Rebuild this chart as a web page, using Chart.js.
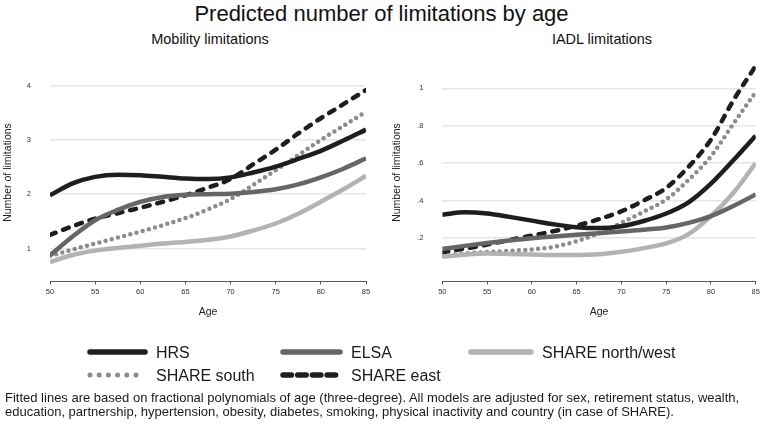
<!DOCTYPE html>
<html>
<head>
<meta charset="utf-8">
<script src="https://cdn.jsdelivr.net/npm/chart.js@4.4.1/dist/chart.umd.min.js"></script>
<style>
  body { margin: 0; background: #fff; }
  #page { position: relative; width: 763px; height: 427px; overflow: hidden; background: #fff;
          font-family: "Liberation Sans", Arial, Helvetica, sans-serif; color: #111; }
  #title { position: absolute; left: 0; top: 3px; width: 763px; text-align: center; font-size: 22px; line-height: 1; }
  .sub { position: absolute; top: 32px; font-size: 14.5px; line-height: 1; text-align: center; white-space: nowrap; }
  canvas { position: absolute; }
  .lt { position: absolute; font-size: 16px; line-height: 1; white-space: nowrap; color: #1a1a1a; }
  #legendLines { position: absolute; left: 0; top: 0; }
  #note { position: absolute; left: 5px; top: 391px; font-size: 13px; line-height: 13.5px; white-space: nowrap; color: #1a1a1a; }
</style>
</head>
<body>
<div id="page">
  <div id="title">Predicted number of limitations by age</div>
  <div class="sub" style="left:110px;width:200px">Mobility limitations</div>
  <div class="sub" style="left:502px;width:200px">IADL limitations</div>

  <canvas id="mobChart" width="380" height="270" style="left:0;top:55px"></canvas>
  <canvas id="iadlChart" width="383" height="270" style="left:380px;top:55px"></canvas>

  <svg id="legendLines" width="763" height="427"></svg>
  <div id="legendText"></div>

  <div id="note">Fitted lines are based on fractional polynomials of age (three-degree). All models are adjusted for sex, retirement status, wealth,<br>education, partnership, hypertension, obesity, diabetes, smoking, physical inactivity and country (in case of SHARE).</div>
</div>

<script>
// ages every 2.5 years, 50..85
const ages = [50, 52.5, 55, 57.5, 60, 62.5, 65, 67.5, 70, 72.5, 75, 77.5, 80, 82.5, 85];
const ageTicks = [50, 55, 60, 65, 70, 75, 80, 85];

// mobility limitations
const mobHRS   = [1.98, 2.2, 2.32, 2.36, 2.35, 2.32, 2.29, 2.28, 2.31, 2.4, 2.51, 2.65, 2.8, 2.99, 3.19];
const mobELSA  = [0.87, 1.22, 1.52, 1.71, 1.86, 1.95, 1.99, 2.0, 2.01, 2.04, 2.09, 2.18, 2.31, 2.47, 2.66];
const mobNW    = [0.75, 0.88, 0.96, 1.01, 1.05, 1.09, 1.12, 1.16, 1.22, 1.33, 1.46, 1.64, 1.86, 2.09, 2.34];
const mobSouth = [0.86, 0.98, 1.09, 1.2, 1.31, 1.43, 1.56, 1.72, 1.91, 2.17, 2.44, 2.72, 3.0, 3.26, 3.52];
const mobEast  = [1.25, 1.41, 1.55, 1.65, 1.75, 1.86, 1.98, 2.12, 2.28, 2.55, 2.82, 3.12, 3.4, 3.66, 3.92];
const mobTicks = [1, 2, 3, 4];

// IADL limitations
const iadlHRS   = [0.324, 0.337, 0.33, 0.312, 0.292, 0.272, 0.257, 0.252, 0.262, 0.29, 0.33, 0.39, 0.49, 0.615, 0.746];
const iadlELSA  = [0.14, 0.157, 0.172, 0.186, 0.198, 0.207, 0.216, 0.225, 0.234, 0.243, 0.255, 0.28, 0.316, 0.37, 0.432];
const iadlNW    = [0.099, 0.11, 0.116, 0.114, 0.111, 0.108, 0.108, 0.112, 0.125, 0.145, 0.17, 0.22, 0.316, 0.44, 0.6];
const iadlSouth = [0.104, 0.116, 0.124, 0.13, 0.138, 0.152, 0.182, 0.225, 0.28, 0.34, 0.405, 0.51, 0.636, 0.81, 0.98];
const iadlEast  = [0.122, 0.142, 0.164, 0.188, 0.212, 0.236, 0.265, 0.3, 0.342, 0.4, 0.467, 0.58, 0.725, 0.935, 1.12];
const iadlTicks = [0.2, 0.4, 0.6, 0.8, 1];

const seriesNames = ['HRS', 'ELSA', 'SHARE north/west', 'SHARE south', 'SHARE east'];

const FONT = '"Liberation Sans", Arial, Helvetica, sans-serif';
const looks = [
  { color: '#1e1e1e', dash: [],     cap: 'butt' },
  { color: '#666666', dash: [],     cap: 'butt' },
  { color: '#b3b3b3', dash: [],     cap: 'butt' },
  { color: '#8c8c8c', dash: [0, 6.4], cap: 'round' },
  { color: '#1e1e1e', dash: [6, 8], cap: 'round' }
];

const pts = vals => vals.map((v, i) => ({ x: ages[i], y: v }));

function makeDatasets(list) {
  return list.map((vals, i) => ({
    label: seriesNames[i],
    data: pts(vals),
    borderColor: looks[i].color,
    borderWidth: 4.5,
    borderDash: looks[i].dash,
    borderCapStyle: looks[i].cap,
    pointRadius: 0,
    cubicInterpolationMode: 'monotone',
    fill: false
  }));
}

function makeChart(id, datasets, yMin, yMax, yTicks, fmt, yAxisW, titlePad, rightPad) {
  return new Chart(document.getElementById(id), {
    type: 'line',
    data: { datasets },
    options: {
      responsive: false,
      animation: false,
      layout: { padding: { top: 9, right: rightPad, bottom: 0, left: 0 } },
      plugins: { legend: { display: false }, tooltip: { enabled: false } },
      scales: {
        x: {
          type: 'linear', min: 50, max: 85,
          afterBuildTicks: s => { s.ticks = ageTicks.map(v => ({ value: v })); },
          ticks: { font: { family: FONT, size: 7.5 }, color: '#333', padding: 3 },
          grid: { drawOnChartArea: false, drawTicks: true, tickLength: 3.5, color: '#555', lineWidth: 1 },
          border: { display: true, color: '#555', width: 1 },
          title: { display: true, text: 'Age', font: { family: FONT, size: 10.5 }, color: '#222',
                   padding: { top: 0, bottom: 6.7 } },
          afterFit: s => { s.height = 44; }
        },
        y: {
          min: yMin, max: yMax,
          afterBuildTicks: s => { s.ticks = yTicks.map(v => ({ value: v })); },
          ticks: { font: { family: FONT, size: 7.5 }, color: '#333', padding: 3, callback: fmt },
          // invisible tick marks push the labels away from the plot
          grid: { color: '#e6e6e6', lineWidth: 1.5, drawTicks: true, tickLength: 16, tickColor: 'rgba(0,0,0,0)' },
          border: { display: false },
          title: { display: true, text: 'Number of limitations', font: { family: FONT, size: 10.5 }, color: '#222',
                   padding: { top: titlePad, bottom: 0 } },
          afterFit: s => { s.width = yAxisW; }
        }
      }
    }
  });
}

makeChart('mobChart',
  makeDatasets([mobHRS, mobELSA, mobNW, mobSouth, mobEast]),
  0.4, 4.4, mobTicks, v => String(v), 50, 1.7, 14);

makeChart('iadlChart',
  makeDatasets([iadlHRS, iadlELSA, iadlNW, iadlSouth, iadlEast]),
  -0.031, 1.13, iadlTicks, v => (v === 1 ? '1' : String(v).replace(/^0/, '')), 62.3, 10.4, 7.3);

// legend: three columns, two rows
const legendCols = [87, 280, 468];
const legendRows = [352, 375];
const legendLineLen = [61, 63, 66];
const svgNS = 'http://www.w3.org/2000/svg';
const svg = document.getElementById('legendLines');
const legendText = document.getElementById('legendText');
seriesNames.forEach((name, i) => {
  const col = i % 3, row = Math.floor(i / 3);
  const x0 = legendCols[col], y = legendRows[row], len = legendLineLen[col];
  const ln = document.createElementNS(svgNS, 'line');
  const dotted = i === 3, dashed = i === 4;
  ln.setAttribute('x1', x0 + 3);
  ln.setAttribute('x2', x0 + len - 3);
  ln.setAttribute('y1', y);
  ln.setAttribute('y2', y);
  ln.setAttribute('stroke', looks[i].color);
  ln.setAttribute('stroke-width', dotted ? 5 : 5.5);
  ln.setAttribute('stroke-linecap', 'round');
  if (dotted) ln.setAttribute('stroke-dasharray', '0 9.2');
  if (dashed) ln.setAttribute('stroke-dasharray', '8.5 6.2');
  svg.appendChild(ln);

  const t = document.createElement('div');
  t.className = 'lt';
  t.textContent = name;
  t.style.left = (x0 + len + 8) + 'px';
  t.style.top = (y - 7.5) + 'px';
  legendText.appendChild(t);
});
</script>
</body>
</html>
